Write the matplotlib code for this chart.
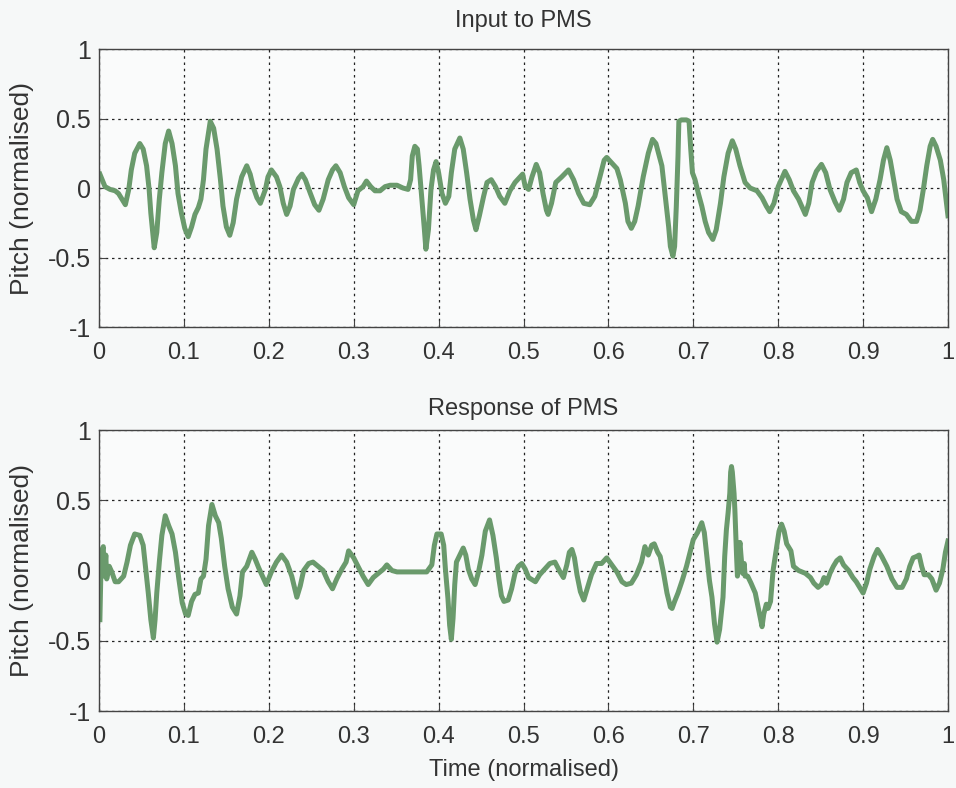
import matplotlib
matplotlib.use("Agg")
import matplotlib.pyplot as plt

plt.rcParams['font.family'] = ['Liberation Sans', 'DejaVu Sans']

# Input to PMS: time and pitch
t_in = [0.001, 0.007, 0.013, 0.019, 0.023, 0.027, 0.031, 0.035, 0.038, 0.042,
        0.048, 0.052, 0.056, 0.059, 0.061, 0.064, 0.065, 0.068, 0.071, 0.074,
        0.078, 0.082, 0.086, 0.090, 0.093, 0.097, 0.101, 0.105, 0.109, 0.113,
        0.117, 0.120, 0.123, 0.126, 0.131, 0.135, 0.139, 0.143, 0.146, 0.150,
        0.154, 0.158, 0.162, 0.168, 0.174, 0.178, 0.182, 0.186, 0.190, 0.196,
        0.199, 0.203, 0.209, 0.213, 0.217, 0.221, 0.225, 0.229, 0.235, 0.239,
        0.243, 0.249, 0.254, 0.259, 0.264, 0.270, 0.275, 0.279, 0.284, 0.289,
        0.294, 0.300, 0.305, 0.311, 0.315, 0.320, 0.325,
        0.331, 0.337, 0.343, 0.351, 0.358, 0.364, 0.367, 0.369, 0.372, 0.375,
        0.377, 0.380, 0.383, 0.385, 0.388, 0.391, 0.394, 0.397, 0.400, 0.404,
        0.408, 0.412, 0.415, 0.419, 0.425, 0.429, 0.433, 0.437, 0.441, 0.444,
        0.448, 0.453, 0.457, 0.462, 0.467, 0.472, 0.478, 0.484, 0.490, 0.496,
        0.499, 0.502, 0.506, 0.510, 0.515, 0.519, 0.523, 0.527, 0.529, 0.533,
        0.538, 0.545, 0.553, 0.559, 0.565, 0.571, 0.578, 0.584, 0.590, 0.595,
        0.598, 0.604, 0.610, 0.614, 0.620, 0.623, 0.627, 0.631, 0.635, 0.641,
        0.647, 0.652, 0.656, 0.660,
        0.663, 0.667, 0.671, 0.673, 0.676, 0.678, 0.680, 0.682, 0.683, 0.686,
        0.692, 0.695, 0.697, 0.699, 0.702, 0.706, 0.710, 0.714, 0.718, 0.723,
        0.727, 0.732, 0.736, 0.741, 0.746, 0.750, 0.755, 0.761, 0.767, 0.775,
        0.781, 0.786, 0.790, 0.795, 0.800, 0.808, 0.813, 0.818, 0.824, 0.832,
        0.836, 0.840, 0.845, 0.851, 0.856, 0.861, 0.867, 0.872, 0.877, 0.881,
        0.886, 0.892, 0.896, 0.900, 0.905, 0.910, 0.915, 0.920, 0.924, 0.928,
        0.932, 0.936, 0.940, 0.945, 0.951, 0.957, 0.963, 0.967, 0.971, 0.975,
        0.979, 0.982, 0.986, 0.991, 0.995, 1.000]
p_in = [0.10, 0.01, -0.01, -0.02, -0.04, -0.08, -0.12, -0.01, 0.13, 0.25,
        0.32, 0.28, 0.16, -0.01, -0.18, -0.37, -0.43, -0.32, -0.08, 0.11,
        0.32, 0.41, 0.32, 0.16, -0.04, -0.18, -0.29, -0.35, -0.28, -0.19,
        -0.14, -0.08, 0.06, 0.28, 0.48, 0.43, 0.28, 0.06, -0.13, -0.28,
        -0.34, -0.25, -0.08, 0.08, 0.16, 0.10, 0.00, -0.07, -0.11, -0.01,
        0.08, 0.13, 0.08, 0.01, -0.11, -0.19, -0.13, -0.01, 0.07, 0.10,
        0.06, -0.04, -0.12, -0.16, -0.08, 0.06, 0.13, 0.16, 0.11, 0.01,
        -0.07, -0.12, -0.02, 0.01, 0.05, 0.01, -0.02,
        -0.02, 0.01, 0.02, 0.02, 0.00, -0.01, 0.06, 0.23, 0.30, 0.28,
        0.16, -0.06, -0.28, -0.44, -0.30, -0.01, 0.13, 0.19, 0.11, -0.04,
        -0.11, -0.06, 0.11, 0.28, 0.36, 0.28, 0.11, -0.08, -0.23, -0.30,
        -0.20, -0.06, 0.04, 0.06, 0.01, -0.06, -0.11, -0.02, 0.04, 0.08,
        0.10, 0.01, -0.01, 0.08, 0.17, 0.11, -0.04, -0.16, -0.19, -0.11,
        0.04, 0.08, 0.13, 0.06, -0.04, -0.11, -0.12, -0.06, 0.08, 0.20,
        0.22, 0.18, 0.14, 0.06, -0.11, -0.24, -0.29, -0.24, -0.13, 0.08,
        0.25, 0.35, 0.32, 0.23,
        0.16, -0.06, -0.28, -0.42, -0.49, -0.42, -0.13, 0.23, 0.48, 0.49,
        0.49, 0.48, 0.28, 0.11, 0.06, -0.04, -0.13, -0.24, -0.32, -0.37,
        -0.30, -0.11, 0.08, 0.25, 0.34, 0.28, 0.16, 0.04, 0.00, -0.02,
        -0.07, -0.13, -0.17, -0.11, 0.01, 0.12, 0.06, -0.02, -0.08, -0.19,
        -0.11, 0.04, 0.12, 0.17, 0.11, -0.01, -0.10, -0.16, -0.08, 0.04,
        0.11, 0.13, 0.04, -0.02, -0.07, -0.17, -0.08, 0.06, 0.20, 0.29,
        0.20, 0.06, -0.08, -0.17, -0.19, -0.24, -0.24, -0.16, -0.01, 0.16,
        0.30, 0.35, 0.30, 0.20, 0.06, -0.20]

# Response of PMS: time and pitch
t_out = [0.001, 0.002, 0.003, 0.005, 0.006, 0.008, 0.009, 0.012, 0.015, 0.019,
         0.023, 0.029, 0.033, 0.037, 0.042, 0.048, 0.052, 0.055, 0.058, 0.061,
         0.064, 0.066, 0.068, 0.071, 0.074, 0.078, 0.082, 0.086, 0.090, 0.094,
         0.098, 0.102, 0.105, 0.109, 0.113, 0.117, 0.120, 0.123, 0.126, 0.129,
         0.133, 0.137, 0.141, 0.144, 0.148, 0.152, 0.157, 0.162, 0.166, 0.169,
         0.174, 0.180, 0.184, 0.188, 0.194, 0.197, 0.203, 0.209, 0.215, 0.221,
         0.227, 0.233, 0.237, 0.241, 0.247, 0.252, 0.258, 0.264, 0.270, 0.275,
         0.280, 0.286, 0.291, 0.294, 0.300, 0.305, 0.311, 0.317, 0.323,
         0.331, 0.335, 0.339, 0.345, 0.351, 0.362, 0.378, 0.386, 0.392, 0.395,
         0.398, 0.403, 0.406, 0.408, 0.411, 0.413, 0.415, 0.417, 0.419, 0.421,
         0.425, 0.429, 0.432, 0.435, 0.439, 0.443, 0.447, 0.451, 0.455, 0.460,
         0.464, 0.468, 0.471, 0.474, 0.477, 0.482, 0.486, 0.490, 0.494, 0.498,
         0.502, 0.506, 0.514, 0.519, 0.525, 0.531, 0.537, 0.543, 0.547, 0.551,
         0.554, 0.557, 0.560, 0.563, 0.567, 0.571, 0.575, 0.580, 0.586, 0.592,
         0.598, 0.604, 0.610, 0.616, 0.621, 0.627, 0.633, 0.639, 0.643, 0.647,
         0.651, 0.654, 0.658,
         0.661, 0.665, 0.669, 0.673, 0.675, 0.678, 0.682, 0.687, 0.692, 0.697,
         0.700, 0.705, 0.710, 0.713, 0.716, 0.719, 0.722, 0.725, 0.728, 0.731,
         0.735, 0.737, 0.739, 0.741, 0.743, 0.744, 0.745, 0.746, 0.748, 0.749,
         0.751, 0.752, 0.753, 0.755, 0.756, 0.758, 0.760, 0.761, 0.764, 0.768,
         0.773, 0.777, 0.781, 0.783, 0.786, 0.788, 0.791, 0.794, 0.798, 0.801,
         0.804, 0.807, 0.810, 0.815, 0.818, 0.824, 0.832, 0.838, 0.842, 0.847,
         0.851, 0.854, 0.857, 0.861, 0.865, 0.869, 0.873, 0.877, 0.883, 0.888,
         0.892, 0.896, 0.900, 0.904, 0.908, 0.913, 0.917, 0.922, 0.928, 0.934,
         0.940, 0.946, 0.951, 0.955, 0.959, 0.963, 0.966, 0.969, 0.972, 0.977,
         0.981, 0.986, 0.990, 0.994, 0.997, 1.000]
p_out = [-0.35, -0.06, 0.13, 0.17, -0.04, 0.11, -0.06, 0.03, -0.01, -0.08,
         -0.08, -0.04, 0.06, 0.18, 0.26, 0.25, 0.18, 0.01, -0.16, -0.35,
         -0.48, -0.35, -0.16, 0.06, 0.25, 0.39, 0.32, 0.26, 0.13, -0.06,
         -0.23, -0.31, -0.32, -0.22, -0.17, -0.16, -0.06, -0.04, 0.08, 0.32,
         0.47, 0.39, 0.34, 0.23, 0.03, -0.13, -0.26, -0.31, -0.18, -0.01,
         0.03, 0.13, 0.08, 0.02, -0.06, -0.10, -0.01, 0.06, 0.11, 0.06,
         -0.04, -0.19, -0.11, 0.00, 0.05, 0.06, 0.03, 0.00, -0.08, -0.13,
         -0.06, 0.01, 0.06, 0.14, 0.09, 0.03, -0.04, -0.10, -0.05,
         -0.01, 0.01, 0.04, 0.00, -0.01, -0.01, -0.01, -0.01, 0.04, 0.18,
         0.26, 0.26, 0.18, 0.01, -0.20, -0.39, -0.49, -0.34, -0.10, 0.06,
         0.11, 0.16, 0.11, 0.01, -0.06, -0.10, -0.01, 0.11, 0.28, 0.36,
         0.25, 0.09, -0.06, -0.18, -0.22, -0.21, -0.13, -0.02, 0.03, 0.05,
         0.01, -0.05, -0.08, -0.03, 0.01, 0.05, 0.06, -0.01, -0.05, 0.04,
         0.13, 0.15, 0.09, -0.03, -0.15, -0.21, -0.13, -0.03, 0.05, 0.05,
         0.09, 0.04, -0.01, -0.08, -0.10, -0.09, -0.03, 0.06, 0.17, 0.11,
         0.18, 0.19, 0.13,
         0.10, -0.02, -0.16, -0.26, -0.27, -0.22, -0.16, -0.07, 0.03, 0.15,
         0.22, 0.27, 0.34, 0.27, 0.10, -0.07, -0.19, -0.38, -0.51, -0.42,
         -0.19, 0.10, 0.29, 0.41, 0.55, 0.70, 0.74, 0.70, 0.55, 0.43,
         0.10, -0.04, 0.10, 0.20, 0.12, -0.02, 0.05, -0.04, -0.04, -0.09,
         -0.16, -0.28, -0.40, -0.31, -0.24, -0.27, -0.22, 0.00, 0.16, 0.28,
         0.33, 0.28, 0.19, 0.14, 0.03, 0.00, -0.02, -0.05, -0.09, -0.12,
         -0.10, -0.05, -0.09, -0.02, 0.03, 0.07, 0.09, 0.04, 0.00, -0.05,
         -0.08, -0.12, -0.16, -0.09, 0.01, 0.10, 0.15, 0.10, 0.03, -0.06,
         -0.12, -0.12, -0.06, 0.03, 0.09, 0.10, 0.11, 0.03, -0.03, -0.03,
         -0.06, -0.14, -0.09, 0.01, 0.13, 0.21]

green = '#6a9a6c'
xticks = [0, 0.1, 0.2, 0.3, 0.4, 0.5, 0.6, 0.7, 0.8, 0.9, 1]
xlabels = ['0', '0.1', '0.2', '0.3', '0.4', '0.5', '0.6', '0.7', '0.8', '0.9', '1']
yticks = [-1, -0.5, 0, 0.5, 1]
ylabels = ['-1', '-0.5', '0', '0.5', '1']
txt = '#333333'

fig = plt.figure(figsize=(9.56, 7.88), dpi=100)
fig.patch.set_facecolor('#f6f8f8')

ax1 = fig.add_axes([0.1036, 0.585, 0.888, 0.3528])
ax2 = fig.add_axes([0.1036, 0.0977, 0.888, 0.3566])

for ax, t, p, title, tpad in [(ax1, t_in, p_in, 'Input to PMS', 16),
                              (ax2, t_out, p_out, 'Response of PMS', 11)]:
    ax.set_facecolor('#fafbfb')
    ax.plot(t, p, color=green, linewidth=3.6)
    ax.set_xlim(0, 1)
    ax.set_ylim(-1, 1)
    ax.set_xticks(xticks)
    ax.set_xticklabels(xlabels)
    ax.set_yticks(yticks)
    ax.set_yticklabels(ylabels)
    ax.grid(True, color='#222222', linestyle=(0, (2, 3)), linewidth=0.9)
    ax.tick_params(direction='in', length=5, colors='#444444', labelcolor=txt)
    ax.tick_params(axis='x', labelsize=17, pad=11)
    ax.tick_params(axis='y', labelsize=18, pad=6)
    ax.set_title(title, fontsize=17, pad=tpad, color=txt)
    ax.set_ylabel('Pitch (normalised)', fontsize=19, labelpad=10, color=txt)
    for s in ax.spines.values():
        s.set_color('#444444')
        s.set_linewidth(1.0)

ax2.set_xlabel('Time (normalised)', fontsize=17, labelpad=8, color=txt)

plt.savefig('out.png', dpi=100, facecolor=fig.get_facecolor())
